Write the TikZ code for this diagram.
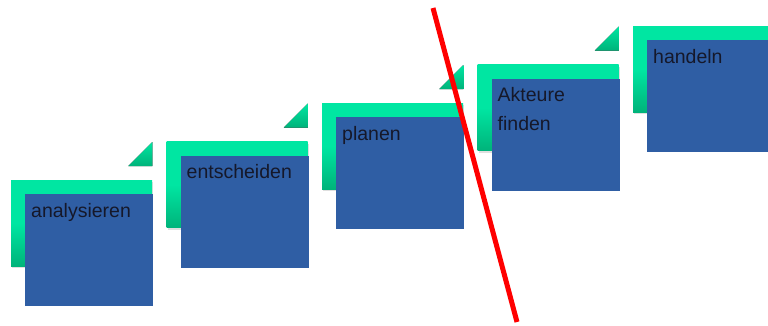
\documentclass[tikz,border=0pt]{standalone}
\usepackage{fontspec}
\setmainfont{Liberation Sans}
\usetikzlibrary{shadows}
\definecolor{stepblue}{HTML}{2F5EA4}
\definecolor{greentop}{HTML}{00E6A2}
\definecolor{greenbot}{HTML}{00B37A}
\definecolor{txtdark}{HTML}{15182A}
\tikzset{
  greenbox/.style={rectangle, inner sep=0pt, anchor=north west,
    minimum width=141pt, minimum height=86pt,
    top color=greentop, bottom color=greenbot, middle color=greentop,
    drop shadow={shadow xshift=1pt, shadow yshift=-2pt, opacity=0.25}},
  bluebox/.style={rectangle, inner sep=0pt, anchor=north west,
    minimum width=128pt, minimum height=112pt, fill=stepblue},
  steptext/.style={anchor=north west, inner sep=0pt, align=left,
    text=txtdark, font=\fontsize{19.5}{29}\selectfont},
  redline/.style={draw=red, line width=5pt},
}
\newcommand{\mystep}[4]{%
  % #1 name, #2 left, #3 top, #4 text
  \node[greenbox] (#1g) at (#2,#3) {};
  \node[bluebox] (#1b) at ([xshift=14pt,yshift=-14pt]#1g.north west) {};
  \node[steptext] (#1t) at ([xshift=6pt,yshift=-9pt]#1b.north west) {#4};
}
\newcommand{\mytri}[1]{%
  \fill[top color=greentop, bottom color=greenbot]
    ([xshift=-24pt,yshift=14pt]#1g.north east) coordinate (#1ta)
    -- ([yshift=14pt]#1g.north east) coordinate (#1tb)
    -- ([yshift=38pt]#1g.north east) coordinate (#1tc) -- cycle;
}
\begin{document}
\begin{tikzpicture}[x=1pt,y=-1pt]
\useasboundingbox (0,0) rectangle (768,325);
\clip (0,0) rectangle (768,325);
\mystep{s1}{11}{180}{analysieren}
\mystep{s2}{166.5}{141.5}{entscheiden}
\mystep{s3}{322}{103}{planen}
\mystep{s4}{477.5}{64.5}{Akteure\\finden}
\mystep{s5}{633}{26}{handeln}
\mytri{s1}
\mytri{s2}
\mytri{s3}
\mytri{s4}
\coordinate (rA) at (433,8);
\coordinate (rB) at (517,322);
\draw[redline] (rA) -- (rB);
\end{tikzpicture}
\end{document}
